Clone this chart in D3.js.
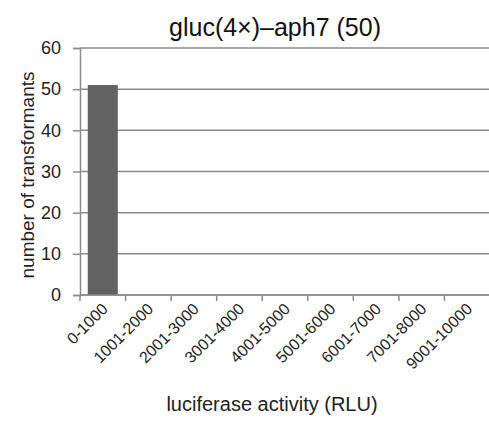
<!DOCTYPE html>
<html>
<head>
<meta charset="utf-8">
<script src="https://cdn.jsdelivr.net/npm/d3@7"></script>
<style>
  body { margin: 0; background: #fff; }
  text { font-family: "Liberation Sans", Arial, sans-serif; }
</style>
</head>
<body>
<script>
var categories = ['0-1000', '1001-2000', '2001-3000', '3001-4000', '4001-5000',
  '5001-6000', '6001-7000', '7001-8000', '9001-10000'];
var counts = [51, 0, 0, 0, 0, 0, 0, 0, 0];
var yTicks = [0, 10, 20, 30, 40, 50, 60];
var title = 'gluc(4\u00d7)\u2013aph7 (50)';

var W = 489, H = 421;
var margin = { top: 48, right: 0, bottom: 126, left: 80 };
var width = 410;
var height = H - margin.top - margin.bottom;

var svg = d3.select('body').append('svg')
  .attr('width', W).attr('height', H);

var g = svg.append('g')
  .attr('transform', 'translate(' + margin.left + ',' + margin.top + ')');

var x = d3.scaleBand().domain(categories).range([0, width])
  .paddingInner(0.34).paddingOuter(0.17);
var y = d3.scaleLinear().domain([0, 60]).range([height, 0]);

// gridlines
g.selectAll('.grid').data(yTicks).enter().append('line')
  .attr('class', 'grid')
  .attr('x1', 0).attr('x2', width)
  .attr('y1', function (d) { return y(d); })
  .attr('y2', function (d) { return y(d); })
  .style('stroke', '#8c8c8c').style('stroke-width', 1.5);

// bars
g.selectAll('.bar').data(counts).enter().append('rect')
  .attr('class', 'bar')
  .attr('x', function (d, i) { return x(categories[i]); })
  .attr('width', x.bandwidth())
  .attr('y', function (d) { return y(d); })
  .attr('height', function (d) { return height - y(d); })
  .style('fill', '#626262');

// y axis
var yAxis = g.append('g')
  .call(d3.axisLeft(y).tickValues(yTicks).tickSize(7).tickPadding(12));
yAxis.selectAll('text').style('font-size', '18px').style('fill', '#222');
yAxis.select('.domain').style('stroke', '#8c8c8c').style('stroke-width', 1.5);
yAxis.selectAll('.tick line').style('stroke', '#8c8c8c').style('stroke-width', 1.5);

// x axis, ticks on band boundaries
var xAxis = g.append('g').attr('transform', 'translate(0,' + height + ')');
xAxis.append('line').attr('x1', 0).attr('x2', width)
  .style('stroke', '#8c8c8c').style('stroke-width', 1.5);
xAxis.selectAll('.xt').data(categories).enter().append('line')
  .attr('class', 'xt')
  .attr('x1', function (d) { return x(d) - x.step() * x.paddingInner() / 2; })
  .attr('x2', function (d) { return x(d) - x.step() * x.paddingInner() / 2; })
  .attr('y1', 0).attr('y2', 6)
  .style('stroke', '#8c8c8c').style('stroke-width', 1.5);
xAxis.selectAll('.xl').data(categories).enter().append('text')
  .attr('class', 'xl')
  .attr('transform', function (d) {
    return 'translate(' + (x(d) + x.bandwidth() / 2 + 2) + ',11) rotate(-45)';
  })
  .attr('text-anchor', 'end')
  .attr('dy', '0.35em')
  .style('font-size', '16px').style('fill', '#222')
  .text(function (d) { return d; });

// titles
svg.append('text').attr('x', 275).attr('y', 36)
  .attr('text-anchor', 'middle')
  .style('font-size', '25px').style('fill', '#111')
  .text(title);

svg.append('text')
  .attr('transform', 'translate(34,175) rotate(-90)')
  .attr('text-anchor', 'middle')
  .style('font-size', '19px').style('fill', '#222')
  .text('number of transformants');

svg.append('text').attr('x', 272).attr('y', 411)
  .attr('text-anchor', 'middle')
  .style('font-size', '20px').style('fill', '#222')
  .text('luciferase activity (RLU)');
</script>
</body>
</html>
